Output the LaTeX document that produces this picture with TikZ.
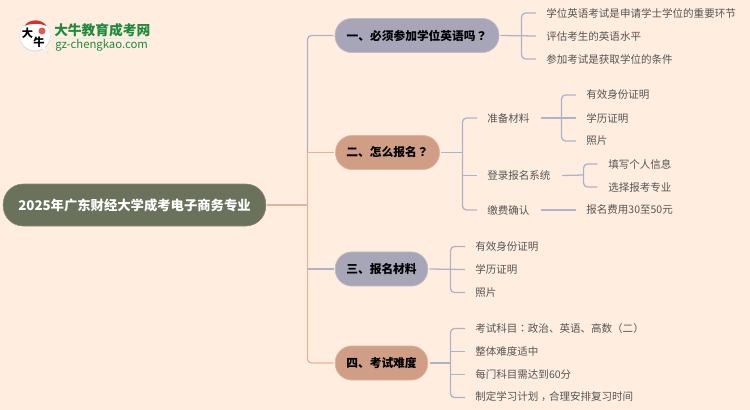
\documentclass[tikz,border=0pt]{standalone}
\usepackage{fontspec}
\setmainfont{Noto Sans CJK SC}
\newfontfamily\tcf{Noto Sans CJK TC}
\newcommand{\pq}{{\tcf ？}}
\newcommand{\pc}{{\tcf ：}}
\newcommand{\pk}{\raisebox{-.22em}{\tcf ，}}
\newcommand{\pl}{{\tcf （}}
\newcommand{\pr}{{\tcf ）}}
\definecolor{bgc}{HTML}{FFEEE0}
\definecolor{lav}{HTML}{A7A6B8}
\definecolor{tan}{HTML}{D09E84}
\definecolor{olive}{HTML}{6B725B}
\definecolor{linelav}{HTML}{B0B2CA}
\definecolor{linetan}{HTML}{E2B49A}
\definecolor{txt}{HTML}{555555}
\definecolor{lgreen}{HTML}{1E8A3C}
\definecolor{lred}{HTML}{D9302C}
\tikzset{
  x=0.75pt,y=-0.75pt,
  pill/.style={rounded corners=12.5pt,minimum height=25.6pt,inner sep=0pt,font=\fontsize{8.8pt}{11pt}\bfseries,text=black},
  lavpill/.style={pill,fill=lav,draw=lav!70!bgc,line width=0.5pt},
  tanpill/.style={pill,fill=tan,draw=tan!70!bgc,line width=0.5pt},
  rootpill/.style={fill=olive,draw=olive!80!bgc,line width=0.4pt,text=white,rounded corners=15pt,minimum height=31.5pt,minimum width=197pt,inner sep=0pt,font=\fontsize{10pt}{12pt}\bfseries},
  leaf/.style={font=\fontsize{7.9pt}{10pt}\selectfont,text=txt,anchor=west,inner sep=0pt},
  ll/.style={draw=linelav,line width=0.95pt,rounded corners=3pt},
  lt/.style={draw=linetan,line width=0.95pt,rounded corners=3pt},
}
\begin{document}
\begin{tikzpicture}
\path[use as bounding box,fill=bgc] (0,0) rectangle (750,410);
% root and main branches
\node[rootpill] (root) at (134.5,205) {2025年广东财经大学成考电子商务专业};
\node[lavpill,minimum width=123pt] (a) at (417,35.5) {一、必须参加学位英语吗\pq};
\node[tanpill,minimum width=78pt] (b) at (387.5,152.5) {二、怎么报名\pq};
\node[lavpill,minimum width=69.5pt] (c) at (381.5,269) {三、报名材料};
\node[tanpill,minimum width=69.5pt] (d) at (381.5,363) {四、考试难度};
% leaves
\node[leaf] (a1) at (546,13) {学位英语考试是申请学士学位的重要环节};
\node[leaf] (a2) at (546,36) {评估考生的英语水平};
\node[leaf] (a3) at (546,59) {参加考试是获取学位的条件};
\node[leaf] (b1) at (487,118) {准备材料};
\node[leaf] (b2) at (487,175.5) {登录报名系统};
\node[leaf] (b3) at (487,210) {缴费确认};
\node[leaf] (b11) at (586,95) {有效身份证明};
\node[leaf] (b12) at (586,118) {学历证明};
\node[leaf] (b13) at (586,141) {照片};
\node[leaf] (b21) at (608,164) {填写个人信息};
\node[leaf] (b22) at (608,187) {选择报考专业};
\node[leaf] (b31) at (586,210) {报名费用30至50元};
\node[leaf] (c1) at (475,246.5) {有效身份证明};
\node[leaf] (c2) at (475,269.5) {学历证明};
\node[leaf] (c3) at (475,292.5) {照片};
\node[leaf] (d1) at (475,328.5) {考试科目\pc 政治、英语、高数\pl 二\pr};
\node[leaf] (d2) at (475,351.5) {整体难度适中};
\node[leaf] (d3) at (475,374.5) {每门科目需达到60分};
\node[leaf] (d4) at (475,397.5) {制定学习计划\pk 合理安排复习时间};
% trunk connectors
\coordinate (tr) at (307.5,205);
\draw[lt] ([xshift=0.8pt]root.east) -- (tr);
\draw[ll] ([xshift=-1pt]a.west) -| (tr |- b.west);
\draw[lt] ([xshift=-1pt]b.west) -- (tr |- b.west);
\draw[lt] (tr |- b.west) -- (tr |- d.west) -- ([xshift=-1pt]d.west);
\draw[ll] ([xshift=-1pt]c.west) -- (tr |- c.west);
% branch a
\coordinate (ja) at (521.5,35.5);
\draw[ll] ([xshift=1pt]a.east) -- ([xshift=-7.5pt]a2.west);
\draw[ll] ([xshift=-7.5pt]a1.west) -| (ja) |- ([xshift=-7.5pt]a3.west);
% branch b
\coordinate (jb) at (462.5,152.5);
\draw[ll] ([xshift=1pt]b.east) -- (jb);
\draw[ll] ([xshift=-7.5pt]b1.west) -| (jb) |- ([xshift=-7.5pt]b3.west);
\draw[ll] ([xshift=-7.5pt]b2.west) -- (jb |- b2.west);
\coordinate (jb1) at (561.5,117.5);
\draw[ll] ([xshift=8.5pt]b1.east) -- ([xshift=-7.5pt]b12.west);
\draw[ll] ([xshift=-7.5pt]b11.west) -| (jb1) |- ([xshift=-7.5pt]b13.west);
\coordinate (jb2) at (583.5,175);
\draw[ll] ([xshift=8.5pt]b2.east) -- (jb2);
\draw[ll] ([xshift=-8pt]b21.west) -| (jb2) |- ([xshift=-8pt]b22.west);
\draw[ll] ([xshift=8.5pt]b3.east) -- ([xshift=-7.5pt]b31.west);
% branch c
\coordinate (jc) at (450.5,269);
\draw[ll] ([xshift=1pt]c.east) -- ([xshift=-7.5pt]c2.west);
\draw[ll] ([xshift=-7.5pt]c1.west) -| (jc) |- ([xshift=-7.5pt]c3.west);
% branch d
\coordinate (jd) at (450.5,363);
\draw[ll] ([xshift=1pt]d.east) -- (jd);
\draw[ll] ([xshift=-7.5pt]d1.west) -| (jd) |- ([xshift=-7.5pt]d4.west);
\draw[ll] ([xshift=-7.5pt]d2.west) -- (jd |- d2.west);
\draw[ll] ([xshift=-7.5pt]d3.west) -- (jd |- d3.west);
% logo
\fill[black!15] (35,36) circle[radius=15.5];
\fill[black!15] (38,47) -- (48,53) -- (44,45) -- cycle;
\fill[white] (35,35.5) circle[radius=15];
\fill[white] (38,47) -- (47,52) -- (44,45) -- cycle;
\fill[lred] (24.5,26) .. controls (29,18.5) and (42,18.5) .. (46.5,26) .. controls (40,23) and (31,23) .. (24.5,26) -- cycle;
\fill[lred!80!white] (42,31) circle[radius=3.5];
\node[inner sep=0pt,text=black,font=\fontsize{8.4pt}{9pt}\bfseries] (logo1) at (27.5,33) {大};
\node[inner sep=0pt,text=black,font=\fontsize{8.4pt}{9pt}\bfseries] (logo2) at (39,42.5) {牛};
\node[inner sep=0pt,anchor=west,text=lgreen,font=\fontsize{10.3pt}{11pt}\bfseries] (logo3) at (54,30) {大牛教育成考网};
\fill[lgreen!15] (54,38.5) rectangle (150,39.5);
\node[inner sep=0pt,anchor=west,text=lgreen,font=\fontsize{8.5pt}{9pt}\selectfont] (logo4) at (55,45) {gz-chengkao.com};
\end{tikzpicture}
\end{document}
